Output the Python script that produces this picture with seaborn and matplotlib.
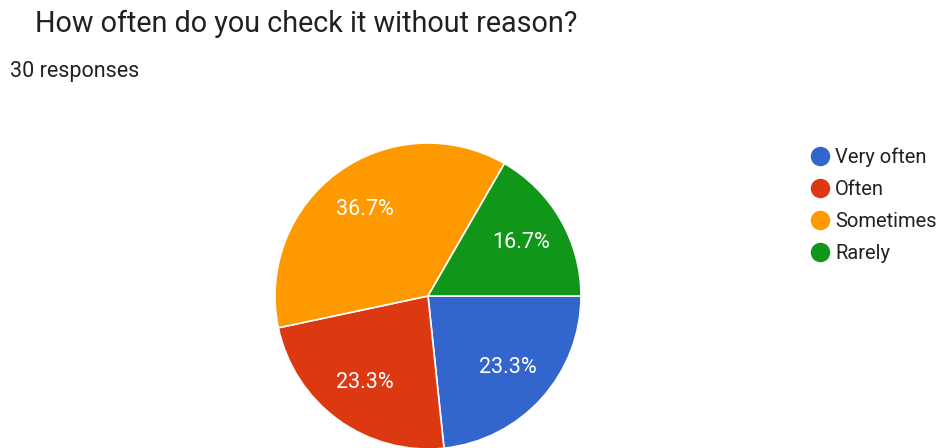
import matplotlib
matplotlib.use("Agg")
import matplotlib.pyplot as plt
from matplotlib.lines import Line2D
import seaborn as sns

# survey answers (30 responses)
labels = ["Very often", "Often", "Sometimes", "Rarely"]
counts = [7, 7, 11, 5]
colors = sns.color_palette(["#3366cc", "#dc3912", "#ff9900", "#109618"])

sns.set_theme(style="white")
plt.rcParams["font.family"] = ["Roboto", "DejaVu Sans"]

fig = plt.figure(figsize=(9.46, 4.48), dpi=100)
fig.patch.set_facecolor("white")

# square axes placed so the pie sits where the reference has it
W, H = 946, 448
cx, cy, r = 428, 296, 153
ax = fig.add_axes([(cx - r) / W, (H - cy - r) / H, 2 * r / W, 2 * r / H])

wedges, _, autotexts = ax.pie(
    counts, colors=colors, startangle=0, counterclock=False,
    autopct="%1.1f%%", pctdistance=0.7, radius=1,
    wedgeprops=dict(edgecolor="white", linewidth=1.2),
    textprops=dict(color="white", fontsize=15.5),
)
ax.set_xlim(-1, 1)
ax.set_ylim(-1, 1)
ax.set_aspect("equal")
ax.axis("off")

fig.text(35 / W, 1 - 24 / H, "How often do you check it without reason?",
         fontsize=20.7, color="#202124", va="center", ha="left")
fig.text(10 / W, 1 - 72 / H, "30 responses",
         fontsize=15.5, color="#202124", va="center", ha="left")

handles = [Line2D([0], [0], marker="o", linestyle="", markersize=13,
                  markerfacecolor=c, markeredgecolor=c) for c in colors]
fig.legend(handles, labels, loc="upper left",
           bbox_to_anchor=(800 / W, 1 - 139 / H), frameon=False,
           fontsize=14.5, handletextpad=0.15, labelspacing=0.66,
           handlelength=1.2, borderaxespad=0, labelcolor="#202124")

fig.savefig("out.png", dpi=100, facecolor="white")
